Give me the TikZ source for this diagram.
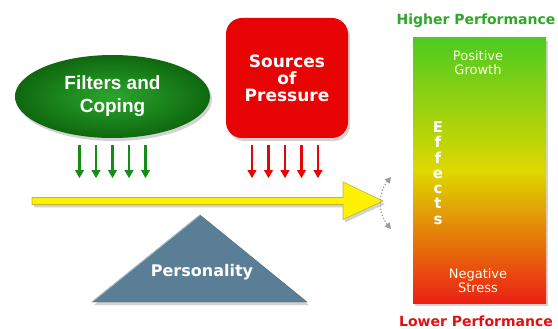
\documentclass[tikz,border=0pt]{standalone}
\usepackage{fontspec}
\setmainfont{DejaVu Sans}
\newfontfamily\arialfont{Liberation Sans}
\usepackage{xcolor}
\usetikzlibrary{arrows.meta,shadows,shapes.geometric}

\definecolor{copegreen}{RGB}{24,140,24}
\definecolor{copelight}{RGB}{44,166,44}
\definecolor{copedark}{RGB}{14,104,14}
\definecolor{pressred}{RGB}{232,4,4}
\definecolor{pyramid}{RGB}{90,126,150}
\definecolor{bargreen}{RGB}{78,202,32}
\definecolor{baryellow}{RGB}{222,216,0}
\definecolor{barred}{RGB}{236,32,20}
\definecolor{hightext}{RGB}{46,168,40}
\definecolor{lowtext}{RGB}{222,18,18}

\tikzset{
  boxtext/.style={text=white, align=center, font=\bfseries\fontsize{17}{17}\selectfont},
  push/.style={-{Triangle[length=8pt,width=8.5pt]}, line width=2.2pt},
  bartext/.style={text=white!92!yellow, align=center, font=\fontsize{13}{14}\selectfont},
  perf/.style={font=\bfseries\fontsize{14}{14}\selectfont},
  soft shadow/.style={drop shadow={shadow xshift=2pt, shadow yshift=-3pt, fill=black!35}}
}

\begin{document}
\begin{tikzpicture}[x=1pt,y=-1pt]
\useasboundingbox (0,0) rectangle (558,329);

% nodes %
\node[ellipse, minimum width=195pt, minimum height=83pt, inner sep=0pt,
      inner color=copelight, outer color=copedark, soft shadow,
      text=white, align=center, font=\arialfont\bfseries\fontsize{19}{23}\selectfont]
      (filters) at (112.5,96.5) {Filters and\\Coping};
\node[rectangle, rounded corners=16pt, minimum width=122pt, minimum height=120pt,
      fill=pressred, soft shadow, boxtext] (pressure) at (287,78) {Sources\\of\\Pressure};

\node[rectangle, minimum width=133pt, minimum height=265pt, top color=bargreen,
      bottom color=barred, middle color=baryellow, soft shadow] (bar) at (479.5,170.5) {};
\node[bartext] (positive) at (478,63) {Positive\\Growth};
\node[bartext] (negative) at (478,281) {Negative\\Stress};
\node[text=white, align=center, font=\bfseries\fontsize{15}{15.3}\selectfont]
      (effects) at (438,173) {E\\f\\f\\e\\c\\t\\s};
\node[perf, text=hightext] (higher) at (476,21) {Higher Performance};
\node[perf, text=lowtext] (lower) at (476,321) {Lower Performance};

\coordinate (apex) at (200,215);
\coordinate (baseL) at (92,302);
\coordinate (baseR) at (307,302);
\filldraw[fill=pyramid, draw=pyramid!80!black, soft shadow] (apex) -- (baseR) -- (baseL) -- cycle;
\draw[pyramid!55!white, line width=1pt] (baseL) -- (apex);
\node[text=white, font=\bfseries\fontsize{16}{16}\selectfont] (personality) at (202,272) {Personality};

% lever %
\coordinate (beamL) at (32,201);
\coordinate (beamT) at (383,201);
\filldraw[fill=yellow, draw=yellow!70!black, line width=0.6pt, soft shadow]
  (beamL) ++(0,-3.5) -- ++(311,0) -- ++(0,-15.5) -- (beamT) -- ++(-40,18.5)
  -- ++(0,-15) -- ++(-311,0) -- cycle;

% edges %
\foreach \dx in {-33,-16.5,0,16.5,33}
  \draw[push, copegreen] ([xshift=\dx pt, yshift=-7pt]filters.south) -- ++(0,33);
\foreach \dx in {-35,-18.5,-2,14.5,31}
  \draw[push, pressred] ([xshift=\dx pt, yshift=-7pt]pressure.south) -- ++(0,33);

\coordinate (swingT) at (391,177);
\coordinate (swingB) at (391,229);
\draw[black!40, line width=1.2pt, dotted, {Triangle[length=6pt,width=6pt]}-{Triangle[length=6pt,width=6pt]}]
  (swingT) to[bend right=40] (swingB);
\end{tikzpicture}
\end{document}
